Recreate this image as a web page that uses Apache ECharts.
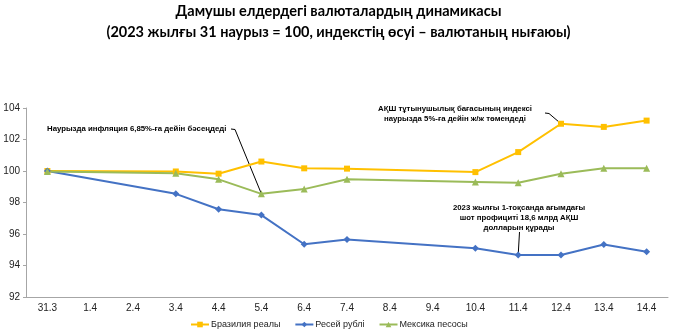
<!DOCTYPE html>
<html>
<head>
<meta charset="utf-8">
<script src="https://cdn.jsdelivr.net/npm/echarts@6/dist/echarts.min.js"></script>
<style>html,body{margin:0;padding:0;background:#fff}#c{width:677px;height:334px}</style>
</head>
<body>
<div id="c"></div>
<script>
const categories = ['31.3','1.4','2.4','3.4','4.4','5.4','6.4','7.4','8.4','9.4','10.4','11.4','12.4','13.4','14.4'];
const brazil = [100.0,null,null,99.97,99.83,100.6,100.17,100.15,null,null,99.93,101.2,103.0,102.8,103.2];
const russia = [100.0,null,null,98.55,97.57,97.2,95.35,95.65,null,null,95.1,94.67,94.67,95.33,94.88];
const mexico = [99.97,null,null,99.85,99.47,98.55,98.85,99.47,null,null,99.3,99.25,99.82,100.17,100.17];
const seriesNames = ['Бразилия реалы','Ресей рублі','Мексика песосы'];
const yTicks = {min:92, max:104, interval:2};
const titleLines = ['Дамушы елдердегі валюталардың динамикасы','(2023 жылғы 31 наурыз = 100, индекстің өсуі – валютаның нығаюы)'];
const note1 = 'Наурызда инфляция 6,85%-ға дейін бәсеңдеді';
const note2 = 'АҚШ тұтынушылық бағасының индексі\nнаурызда 5%-ға дейін ж/ж төмендеді';
const note3 = '2023 жылғы 1-тоқсанда ағымдағы\nшот профициті 18,6 млрд АҚШ\nдолларын құрады';

const chart = echarts.init(document.getElementById('c'));
const colors = ['#FFC000','#4472C4','#9BBB59'];
const symbols = ['rect','diamond','triangle'];
const sizes = [6,7,7];
const datas = [brazil, russia, mexico];
chart.setOption({
  animation:false,
  title:{text:titleLines[0]+'\n'+titleLines[1], left:'center', top:1, padding:0,
    textStyle:{fontFamily:'Lato', fontWeight:'bold', fontSize:14.5, color:'#000', lineHeight:21}},
  grid:{left:26, right:9, top:108, bottom:37},
  legend:{left:190, top:320, itemGap:14, itemWidth:18, itemHeight:7, padding:0,
    textStyle:{fontFamily:'Liberation Sans', fontSize:9, color:'#222', padding:[0,0,0,-3]}},
  xAxis:{type:'category', data:categories, boundaryGap:true,
    axisLine:{lineStyle:{color:'#A6A6A6'}},
    axisTick:{length:3, lineStyle:{color:'#A6A6A6'}},
    axisLabel:{fontFamily:'Liberation Sans', fontSize:10, color:'#222', margin:6}},
  yAxis:{type:'value', min:yTicks.min, max:yTicks.max, interval:yTicks.interval,
    splitLine:{show:false},
    axisLine:{show:true, lineStyle:{color:'#A6A6A6'}},
    axisTick:{show:true, length:3, lineStyle:{color:'#A6A6A6'}},
    axisLabel:{fontFamily:'Liberation Sans', fontSize:10, color:'#222', margin:6}},
  series: datas.map((d,i)=>({
    name:seriesNames[i], type:'line', data:d, connectNulls:true,
    symbol:symbols[i], symbolSize:sizes[i], showSymbol:true,
    itemStyle:{color:colors[i]}, lineStyle:{width:2, color:colors[i]}
  }))
});

function pt(cat, v){ return chart.convertToPixel({seriesIndex:0}, [cat, v]); }
const p1 = pt('5.4', mexico[5]);
const p2 = pt('12.4', brazil[12]);
const p3 = pt('11.4', russia[11]);
const noteStyle = {fontFamily:'Liberation Sans', fontWeight:'bold', fontSize:7.8, fill:'#000', lineHeight:10};
chart.setOption({graphic:[
  {type:'text', left:47, top:124, style:Object.assign({text:note1}, noteStyle)},
  {type:'polyline', shape:{points:[[231,129],[235,129.5],p1]}, style:{stroke:'#000', lineWidth:1, fill:null}},
  {type:'text', x:455, y:104, style:Object.assign({text:note2, align:'center'}, noteStyle)},
  {type:'polyline', shape:{points:[[545,113],[549,113.5],p2]}, style:{stroke:'#000', lineWidth:1, fill:null}},
  {type:'text', x:519, y:203, style:Object.assign({text:note3, align:'center'}, noteStyle)},
  {type:'polyline', shape:{points:[[519.5,232],p3]}, style:{stroke:'#000', lineWidth:1, fill:null}}
]});
</script>
</body>
</html>
